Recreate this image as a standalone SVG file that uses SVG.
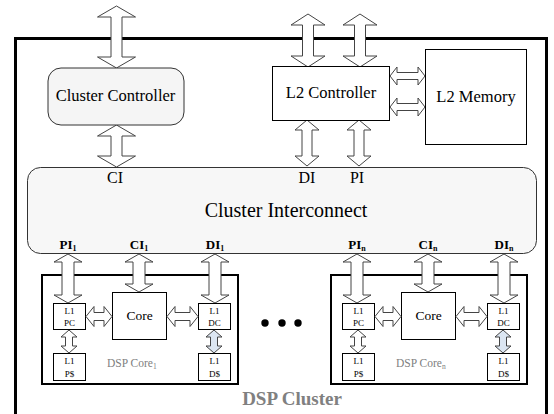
<svg xmlns="http://www.w3.org/2000/svg" width="554" height="414" viewBox="0 0 554 414" font-family="Liberation Serif, Times New Roman, serif">
<style>
text{font-family:'Liberation Serif',serif}
.arr{fill:#fff;stroke:#444;stroke-width:1}
.arrb{fill:#dce6f2;stroke:#444;stroke-width:1}
.box{fill:#fff;stroke:#000;stroke-width:1}
.gray{fill:#808080}
</style>
<rect width="554" height="414" fill="#fff"/>
<g id="dsp-cluster">
<path d="M15.5,420 L15.5,38.5 L546.5,38.5 L546.5,420" fill="none" stroke="#000" stroke-width="3"/>
<text class="gray" x="292" y="405" font-size="19" font-weight="bold" text-anchor="middle">DSP Cluster</text>
</g>
<g id="connectors">
<path class="arr" d="M116.5,6 L135.5,17 L122,17 L122,57 L135.5,57 L116.5,68 L97.5,57 L111,57 L111,17 L97.5,17 Z"/>
<path class="arr" d="M116.5,125 L135.5,136 L122,136 L122,156 L135.5,156 L116.5,167 L97.5,156 L111,156 L111,136 L97.5,136 Z"/>
<path class="arr" d="M308,14 L325,25 L313.5,25 L313.5,56 L325,56 L308,67 L291,56 L302.5,56 L302.5,25 L291,25 Z"/>
<path class="arr" d="M360,14 L377,25 L365.5,25 L365.5,56 L377,56 L360,67 L343,56 L354.5,56 L354.5,25 L343,25 Z"/>
<path class="arr" d="M307,120 L319,130 L312,130 L312,156 L319,156 L307,166 L295,156 L302,156 L302,130 L295,130 Z"/>
<path class="arr" d="M359,120 L371,130 L364,130 L364,156 L371,156 L359,166 L347,156 L354,156 L354,130 L347,130 Z"/>
<path class="arr" d="M390,76 L397,67 L397,72.5 L418,72.5 L418,67 L425,76 L418,85 L418,79.5 L397,79.5 L397,85 Z"/>
<path class="arr" d="M390,107 L397,98 L397,103.5 L418,103.5 L418,98 L425,107 L418,116 L418,110.5 L397,110.5 L397,116 Z"/>
</g>
<g id="cluster-controller">
<rect x="48" y="68" width="136" height="57" rx="13" fill="#f5f5f5" stroke="#333" stroke-width="1"/>
<text x="115.5" y="101" font-size="16.5" text-anchor="middle">Cluster Controller</text>
</g>
<g id="l2-controller">
<rect class="box" x="272.5" y="66.5" width="117" height="54"/>
<text x="331" y="98" font-size="16.5" text-anchor="middle">L2 Controller</text>
</g>
<g id="l2-memory">
<rect class="box" x="425.5" y="49.5" width="101" height="95"/>
<text x="476" y="102" font-size="16.5" text-anchor="middle">L2 Memory</text>
</g>
<g id="cluster-interconnect">
<rect x="27.5" y="167.5" width="509" height="86" rx="13" fill="#f7f7f7" stroke="#333" stroke-width="1"/>
<text x="286" y="217" font-size="20" text-anchor="middle">Cluster Interconnect</text>
<text x="115" y="183" font-size="16" text-anchor="middle">CI</text>
<text x="307" y="183" font-size="16" text-anchor="middle">DI</text>
<text x="357" y="183" font-size="16" text-anchor="middle">PI</text>
</g>
<g id="dsp-core-1">
<g font-weight="bold">
<text x="68" y="249" font-size="13" text-anchor="middle">PI<tspan font-size="8" dy="2">1</tspan></text>
<text x="139" y="249" font-size="13" text-anchor="middle">CI<tspan font-size="8" dy="2">1</tspan></text>
<text x="215" y="249" font-size="13" text-anchor="middle">DI<tspan font-size="8" dy="2">1</tspan></text>
</g>
<rect x="42" y="275" width="196" height="109" fill="#fff" stroke="#000" stroke-width="2"/>
<path class="arr" d="M68,254 L82,262 L74,262 L74,295 L82,295 L68,303 L54,295 L62,295 L62,262 L54,262 Z"/>
<path class="arr" d="M139,254 L153,262 L145,262 L145,284 L153,284 L139,292 L125,284 L133,284 L133,262 L125,262 Z"/>
<path class="arr" d="M215,254 L229,262 L221,262 L221,295 L229,295 L215,303 L201,295 L209,295 L209,262 L201,262 Z"/>
<rect class="box" x="112.5" y="292.5" width="54" height="47"/>
<text x="139.5" y="320" font-size="13.5" text-anchor="middle">Core</text>
<rect class="box" x="53.5" y="303.5" width="32" height="26"/>
<text x="69.5" y="314" font-size="9" text-anchor="middle">L1</text>
<text x="69.5" y="326" font-size="9" text-anchor="middle">PC</text>
<rect class="box" x="53.5" y="353.5" width="32" height="27"/>
<text x="69.5" y="364" font-size="9" text-anchor="middle">L1</text>
<text x="69.5" y="377" font-size="9" text-anchor="middle">P$</text>
<rect class="box" x="198.5" y="303.5" width="32" height="26"/>
<text x="214.5" y="314" font-size="9" text-anchor="middle">L1</text>
<text x="214.5" y="326" font-size="9" text-anchor="middle">DC</text>
<rect class="box" x="198.5" y="353.5" width="32" height="27"/>
<text x="214.5" y="364" font-size="9" text-anchor="middle">L1</text>
<text x="214.5" y="377" font-size="9" text-anchor="middle">D$</text>
<path class="arr" d="M86,316.5 L94,306.5 L94,312.5 L104,312.5 L104,306.5 L112,316.5 L104,326.5 L104,320.5 L94,320.5 L94,326.5 Z"/>
<path class="arr" d="M167,316.5 L175,306.5 L175,312.5 L190,312.5 L190,306.5 L198,316.5 L190,326.5 L190,320.5 L175,320.5 L175,326.5 Z"/>
<path class="arr" d="M69,330 L77,337 L72.5,337 L72.5,346 L77,346 L69,353 L61,346 L65.5,346 L65.5,337 L61,337 Z"/>
<path class="arrb" d="M214,330 L222,337 L217.5,337 L217.5,346 L222,346 L214,353 L206,346 L210.5,346 L210.5,337 L206,337 Z"/>
<text class="gray" x="107" y="367" font-size="11.5">DSP Core<tspan font-size="7.5" dy="2">1</tspan></text>
</g>
<g id="ellipsis">
<circle cx="265" cy="323" r="3.7" fill="#000"/>
<circle cx="282" cy="323" r="3.7" fill="#000"/>
<circle cx="298" cy="323" r="3.7" fill="#000"/>
</g>
<g id="dsp-core-n" transform="translate(289,0)">
<g font-weight="bold">
<text x="68" y="249" font-size="13" text-anchor="middle">PI<tspan font-size="8" dy="2">n</tspan></text>
<text x="139" y="249" font-size="13" text-anchor="middle">CI<tspan font-size="8" dy="2">n</tspan></text>
<text x="215" y="249" font-size="13" text-anchor="middle">DI<tspan font-size="8" dy="2">n</tspan></text>
</g>
<rect x="42" y="275" width="196" height="109" fill="#fff" stroke="#000" stroke-width="2"/>
<path class="arr" d="M68,254 L82,262 L74,262 L74,295 L82,295 L68,303 L54,295 L62,295 L62,262 L54,262 Z"/>
<path class="arr" d="M139,254 L153,262 L145,262 L145,284 L153,284 L139,292 L125,284 L133,284 L133,262 L125,262 Z"/>
<path class="arr" d="M215,254 L229,262 L221,262 L221,295 L229,295 L215,303 L201,295 L209,295 L209,262 L201,262 Z"/>
<rect class="box" x="112.5" y="292.5" width="54" height="47"/>
<text x="139.5" y="320" font-size="13.5" text-anchor="middle">Core</text>
<rect class="box" x="53.5" y="303.5" width="32" height="26"/>
<text x="69.5" y="314" font-size="9" text-anchor="middle">L1</text>
<text x="69.5" y="326" font-size="9" text-anchor="middle">PC</text>
<rect class="box" x="53.5" y="353.5" width="32" height="27"/>
<text x="69.5" y="364" font-size="9" text-anchor="middle">L1</text>
<text x="69.5" y="377" font-size="9" text-anchor="middle">P$</text>
<rect class="box" x="198.5" y="303.5" width="32" height="26"/>
<text x="214.5" y="314" font-size="9" text-anchor="middle">L1</text>
<text x="214.5" y="326" font-size="9" text-anchor="middle">DC</text>
<rect class="box" x="198.5" y="353.5" width="32" height="27"/>
<text x="214.5" y="364" font-size="9" text-anchor="middle">L1</text>
<text x="214.5" y="377" font-size="9" text-anchor="middle">D$</text>
<path class="arr" d="M86,316.5 L94,306.5 L94,312.5 L104,312.5 L104,306.5 L112,316.5 L104,326.5 L104,320.5 L94,320.5 L94,326.5 Z"/>
<path class="arr" d="M167,316.5 L175,306.5 L175,312.5 L190,312.5 L190,306.5 L198,316.5 L190,326.5 L190,320.5 L175,320.5 L175,326.5 Z"/>
<path class="arr" d="M69,330 L77,337 L72.5,337 L72.5,346 L77,346 L69,353 L61,346 L65.5,346 L65.5,337 L61,337 Z"/>
<path class="arrb" d="M214,330 L222,337 L217.5,337 L217.5,346 L222,346 L214,353 L206,346 L210.5,346 L210.5,337 L206,337 Z"/>
<text class="gray" x="107" y="367" font-size="11.5">DSP Core<tspan font-size="7.5" dy="2">n</tspan></text>
</g>
</svg>
